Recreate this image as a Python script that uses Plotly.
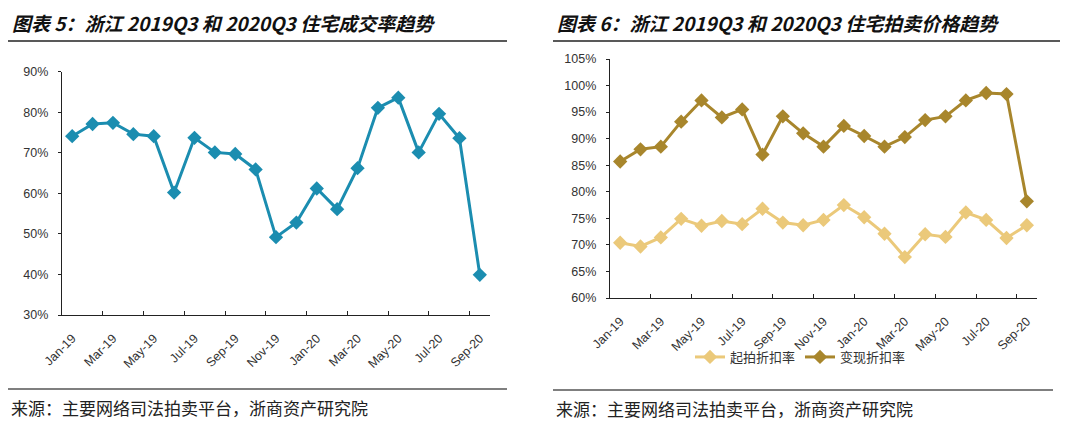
import plotly.graph_objects as go

months = ["Jan-19","Feb-19","Mar-19","Apr-19","May-19","Jun-19","Jul-19","Aug-19","Sep-19","Oct-19","Nov-19","Dec-19",
          "Jan-20","Feb-20","Mar-20","Apr-20","May-20","Jun-20","Jul-20","Aug-20","Sep-20"]
deal_rate = [74.1,77.1,77.4,74.6,74.1,60.2,73.7,70.1,69.7,65.9,49.2,52.8,
             61.2,56.1,66.2,81.1,83.6,70.1,79.6,73.6,39.9]
start_discount = [70.4,69.7,71.4,74.9,73.6,74.5,73.9,76.8,74.2,73.7,74.7,77.5,
                  75.2,72.1,67.7,72.0,71.5,76.1,74.7,71.3,73.7]
realize_discount = [85.7,88.0,88.5,93.2,97.2,94.0,95.5,87.0,94.2,91.0,88.5,92.4,
                    90.5,88.5,90.3,93.5,94.2,97.2,98.6,98.4,78.2]

title_left = "图表 5：浙江 2019Q3 和 2020Q3 住宅成交率趋势"
title_right = "图表 6：浙江 2019Q3 和 2020Q3 住宅拍卖价格趋势"
source = "来源：主要网络司法拍卖平台，浙商资产研究院"
name_start = "起拍折扣率"
name_realize = "变现折扣率"

# page body has an 8px default margin: size the figure so it fills the 1080x422 window
OFF = 8
W, H = 1080 - OFF, 422 - OFF
idx = list(range(len(months)))
tick_idx = idx[::2]
tick_txt = months[::2]

C_TEAL = "#1b8db0"
C_DARK = "#a8862c"
C_LIGHT = "#ebc97a"

fig = go.Figure()
fig.add_trace(go.Scatter(x=idx, y=[v/100 for v in deal_rate], mode="lines+markers",
                         line=dict(color=C_TEAL, width=3), marker=dict(symbol="diamond", size=11, color=C_TEAL),
                         showlegend=False, xaxis="x", yaxis="y"))
fig.add_trace(go.Scatter(x=idx, y=[v/100 for v in start_discount], mode="lines+markers", name=name_start,
                         line=dict(color=C_LIGHT, width=3), marker=dict(symbol="diamond", size=11, color=C_LIGHT),
                         xaxis="x2", yaxis="y2"))
fig.add_trace(go.Scatter(x=idx, y=[v/100 for v in realize_discount], mode="lines+markers", name=name_realize,
                         line=dict(color=C_DARK, width=3), marker=dict(symbol="diamond", size=11, color=C_DARK),
                         xaxis="x2", yaxis="y2"))

def px(x): return (x - OFF) / W
def py(y): return 1 - (y - OFF) / H

tickfont = dict(family="Liberation Sans, Arial, sans-serif", size=12.5, color="#333333")
xcommon = dict(range=[-0.5, len(months) - 0.5], tickmode="array", tickvals=tick_idx, ticktext=tick_txt,
               tickangle=-45, ticks="", showline=True, linecolor="#222", linewidth=1.3, showgrid=False,
               zeroline=False, tickfont=tickfont, fixedrange=True, ticklabelstandoff=10,
               minor=dict(tickmode="array", tickvals=[i + 1.5 for i in range(0, len(months) - 2, 2)],
                          ticks="inside", ticklen=4, tickcolor="#222", showgrid=False))
ycommon = dict(tickformat=".0%", ticks="outside", ticklen=3, tickcolor="#222", showline=True,
               linecolor="#222", linewidth=1.3, showgrid=False, zeroline=False, tickfont=tickfont,
               fixedrange=True, ticklabelstandoff=7)

fig.update_layout(
    width=W, height=H, autosize=False,
    margin=dict(l=0, r=0, t=0, b=0, autoexpand=False),
    paper_bgcolor="white", plot_bgcolor="white",
    xaxis=dict(domain=[px(62), px(490)], anchor="y", **xcommon),
    yaxis=dict(domain=[py(315), py(71.7)], anchor="x", range=[0.3, 0.9], dtick=0.1, **ycommon),
    xaxis2=dict(domain=[px(610), px(1037)], anchor="y2", **xcommon),
    yaxis2=dict(domain=[py(298), py(59)], anchor="x2", range=[0.6, 1.05], dtick=0.05, **ycommon),
    legend=dict(orientation="h", x=px(690), y=py(357), xanchor="left", yanchor="middle",
                font=dict(family="Noto Sans CJK SC", size=13, color="#333"), bgcolor="rgba(0,0,0,0)",
                itemwidth=30, tracegroupgap=0),
)

shapes = []
# left panel rules
shapes.append(dict(type="line", xref="paper", yref="paper", x0=px(8), x1=px(507), y0=py(4), y1=py(4),
                   line=dict(color="#8a8a8a", width=2.5)))
shapes.append(dict(type="line", xref="paper", yref="paper", x0=px(8), x1=px(507), y0=py(41), y1=py(41),
                   line=dict(color="#222", width=1.3)))
shapes.append(dict(type="line", xref="paper", yref="paper", x0=px(8), x1=px(507), y0=py(389), y1=py(389),
                   line=dict(color="#555", width=1.3)))
# right panel rules
shapes.append(dict(type="line", xref="paper", yref="paper", x0=px(553), x1=px(1060), y0=py(4), y1=py(4),
                   line=dict(color="#8a8a8a", width=2.5)))
shapes.append(dict(type="line", xref="paper", yref="paper", x0=px(553), x1=px(1060), y0=py(41), y1=py(41),
                   line=dict(color="#222", width=1.3)))
shapes.append(dict(type="line", xref="paper", yref="paper", x0=px(553), x1=px(1053), y0=py(390), y1=py(390),
                   line=dict(color="#555", width=1.3)))
fig.update_layout(shapes=shapes)

titlefont = dict(family="Noto Sans CJK SC", size=19, color="#111", weight="bold", style="italic")
srcfont = dict(family="Noto Sans CJK SC", size=17, color="#222")
ann = [
    dict(text=title_left, x=px(10), y=py(22), xanchor="left", yanchor="middle", font=titlefont),
    dict(text=title_right, x=px(555), y=py(22), xanchor="left", yanchor="middle", font=titlefont),
    dict(text=source, x=px(9), y=py(407), xanchor="left", yanchor="middle", font=srcfont),
    dict(text=source, x=px(554), y=py(408), xanchor="left", yanchor="middle", font=srcfont),
]
for a in ann:
    a.update(xref="paper", yref="paper", showarrow=False)
fig.update_layout(annotations=ann)

fig.write_html("out.html")
